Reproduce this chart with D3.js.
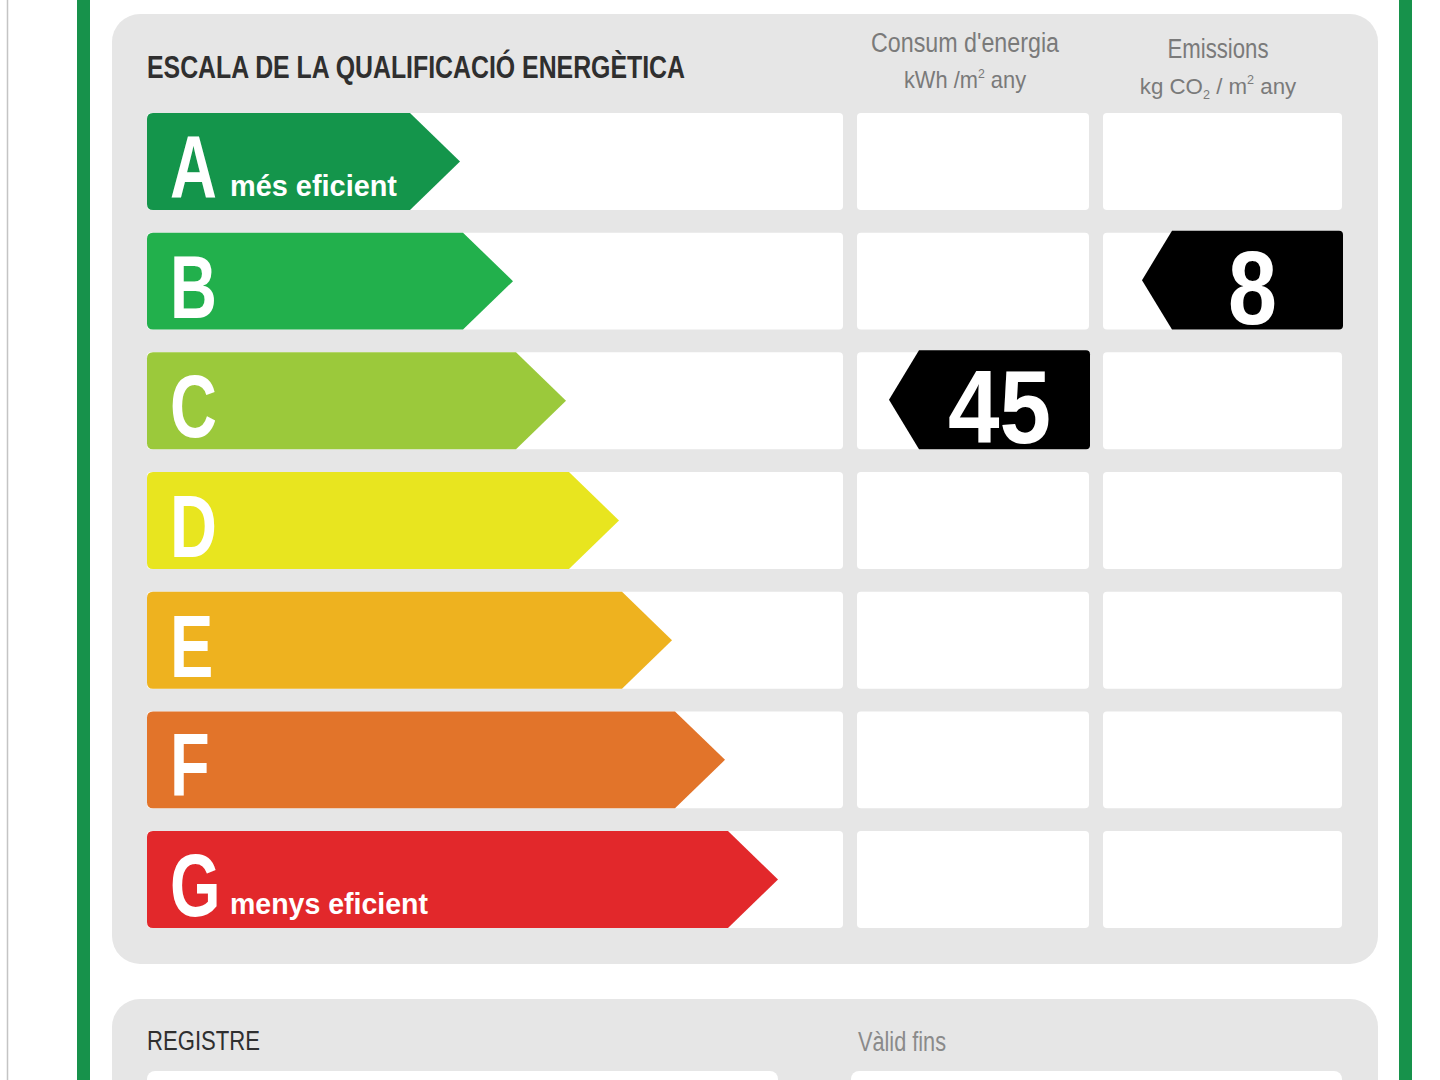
<!DOCTYPE html>
<html>
<head>
<meta charset="utf-8">
<script src="https://cdn.jsdelivr.net/npm/d3@7"></script>
<style>
  html, body { margin: 0; padding: 0; background: #ffffff; }
  svg { display: block; }
</style>
</head>
<body>
<svg id="chart" width="1440" height="1080"></svg>
<script>
// ---- Data ----
const ratings = ["A", "B", "C", "D", "E", "F", "G"];
const subLabels = ["més eficient", "", "", "", "", "", "menys eficient"];
const ratingColors = ["#14954b", "#22b04c", "#9bc93b", "#e8e51f", "#eeb21f", "#e2742a", "#e2282b"];
const energyValue = 45;
const energyClass = "C";
const emissionValue = 8;
const emissionClass = "B";
const titleText = "ESCALA DE LA QUALIFICACIÓ ENERGÈTICA";
const energyHeader = ["Consum d'energia", "kWh /m", "2", " any"];
const emissionHeader = ["Emissions", "kg CO", "2", " / m", "2", " any"];
const footerLabels = ["REGISTRE", "Vàlid fins"];

// ---- Setup ----
const svg = d3.select("#chart");
const FONT = "'Liberation Sans', Arial, sans-serif";

const y = d3.scaleBand().domain(ratings).range([113, 928]).paddingInner(0.19).paddingOuter(0);
const tipX = d3.scaleLinear().domain([0, ratings.length - 1]).range([460, 778]);
const colX = d3.scaleOrdinal().domain(["scale", "energy", "emission"]).range([[147, 843], [857, 1089], [1103, 1342]]);

// left thin grey rule
svg.append("line").attr("x1", 7.5).attr("x2", 7.5).attr("y1", 0).attr("y2", 1080)
  .attr("stroke", "#c4c4c4").attr("stroke-width", 1.5);
// green frame lines
svg.append("rect").attr("x", 77).attr("y", 0).attr("width", 13).attr("height", 1080).attr("fill", "#17924b");
svg.append("rect").attr("x", 1399).attr("y", 0).attr("width", 13).attr("height", 1080).attr("fill", "#17924b");

// main grey panel
svg.append("rect").attr("x", 112).attr("y", 14).attr("width", 1266).attr("height", 950)
  .attr("rx", 28).attr("fill", "#e6e6e6");
// bottom grey panel
svg.append("rect").attr("x", 112).attr("y", 999).attr("width", 1266).attr("height", 200)
  .attr("rx", 28).attr("fill", "#e6e6e6");

// title
svg.append("text").attr("x", 147).attr("y", 78)
  .attr("font-family", FONT).attr("font-weight", 700).attr("font-size", 31)
  .attr("fill", "#2f2f2f").attr("textLength", 538).attr("lengthAdjust", "spacingAndGlyphs")
  .text(titleText);

// headers
function header(lines, cx, y1, y2, w1, sx) {
  svg.append("text").attr("x", cx).attr("y", y1).attr("text-anchor", "middle")
    .attr("font-family", FONT).attr("font-size", 27).attr("fill", "#7a7a7a")
    .attr("textLength", w1).attr("lengthAdjust", "spacingAndGlyphs").text(lines[0]);
  const t2 = svg.append("text").attr("x", cx).attr("y", y2).attr("text-anchor", "middle")
    .attr("font-family", FONT).attr("font-size", 23).attr("fill", "#7a7a7a")
    .attr("transform", `translate(${cx},0) scale(${sx},1) translate(${-cx},0)`);
  lines.slice(1).forEach((s, i) => {
    const sp = t2.append("tspan").text(s);
    if (s === "2") {
      const isSub = lines[0] === "Emissions" && i === 1;
      sp.attr("font-size", 13).attr("dy", isSub ? 5 : -10);
    } else if (i > 0 && lines[i] === "2") {
      const prevSub = lines[0] === "Emissions" && i - 1 === 1;
      sp.attr("dy", prevSub ? -5 : 10);
    }
  });
}
header(energyHeader, 965, 52, 88, 188, 0.95);
header(emissionHeader, 1218, 58, 94, 101, 0.97);

// white row cells
const cells = [];
ratings.forEach(r => ["scale", "energy", "emission"].forEach(c => cells.push({ r, c })));
svg.append("g").selectAll("rect").data(cells).join("rect")
  .attr("x", d => colX(d.c)[0]).attr("y", d => y(d.r))
  .attr("width", d => colX(d.c)[1] - colX(d.c)[0]).attr("height", y.bandwidth())
  .attr("rx", 4).attr("fill", "#ffffff");

// rating arrows
const arrowDepth = 50, r0 = 6;
const bars = svg.append("g").selectAll("g").data(ratings).join("g");
bars.append("path")
  .attr("d", (d, i) => {
    const x0 = 147, top = y(d), h = y.bandwidth(), tip = tipX(i), bx = tip - arrowDepth;
    return `M${x0 + r0},${top} L${bx},${top} L${tip},${top + h / 2} L${bx},${top + h} L${x0 + r0},${top + h}
            Q${x0},${top + h} ${x0},${top + h - r0} L${x0},${top + r0} Q${x0},${top} ${x0 + r0},${top} Z`;
  })
  .attr("fill", (d, i) => ratingColors[i]);
bars.append("text")
  .attr("transform", d => `translate(170,${y(d) + 85}) scale(0.73,1)`)
  .attr("font-family", FONT).attr("font-weight", 700).attr("font-size", 89)
  .attr("fill", "#ffffff").text(d => d);
bars.filter((d, i) => subLabels[i] !== "").append("text")
  .attr("x", 230).attr("y", d => y(d) + 83)
  .attr("font-family", FONT).attr("font-weight", 700).attr("font-size", 30)
  .attr("fill", "#ffffff")
  .attr("textLength", d => subLabels[ratings.indexOf(d)] === "més eficient" ? 167 : 198)
  .attr("lengthAdjust", "spacingAndGlyphs")
  .text(d => subLabels[ratings.indexOf(d)]);

// value markers
const markers = [
  { col: "energy", cls: energyClass, value: energyValue, w: 103 },
  { col: "emission", cls: emissionClass, value: emissionValue, w: 49 }
];
const mg = svg.append("g").selectAll("g").data(markers).join("g");
mg.append("path").attr("d", d => {
  const right = colX(d.col)[1] + 1, left = right - 171, tip = left - 30;
  const top = y(d.cls) - 2, h = y.bandwidth() + 2, rr = 4;
  return `M${left},${top} L${right - rr},${top} Q${right},${top} ${right},${top + rr}
          L${right},${top + h - rr} Q${right},${top + h} ${right - rr},${top + h}
          L${left},${top + h} L${tip},${top + h / 2} Z`;
}).attr("fill", "#000000");
mg.append("text")
  .attr("x", d => colX(d.col)[1] + 1 - 171 / 2 - 5)
  .attr("y", d => y(d.cls) + 91)
  .attr("text-anchor", "middle")
  .attr("font-family", FONT).attr("font-weight", 700).attr("font-size", 104)
  .attr("fill", "#ffffff")
  .attr("textLength", d => d.w).attr("lengthAdjust", "spacingAndGlyphs")
  .text(d => d.value);

// footer
svg.append("text").attr("x", 147).attr("y", 1050)
  .attr("font-family", FONT).attr("font-size", 27).attr("fill", "#2f2f2f")
  .attr("textLength", 113).attr("lengthAdjust", "spacingAndGlyphs").text(footerLabels[0]);
svg.append("text").attr("x", 858).attr("y", 1051)
  .attr("font-family", FONT).attr("font-size", 27).attr("fill", "#8a8a8a")
  .attr("textLength", 88).attr("lengthAdjust", "spacingAndGlyphs").text(footerLabels[1]);
svg.append("rect").attr("x", 147).attr("y", 1071).attr("width", 631).attr("height", 60).attr("rx", 8).attr("fill", "#ffffff");
svg.append("rect").attr("x", 851).attr("y", 1071).attr("width", 491).attr("height", 60).attr("rx", 8).attr("fill", "#ffffff");
</script>
</body>
</html>
